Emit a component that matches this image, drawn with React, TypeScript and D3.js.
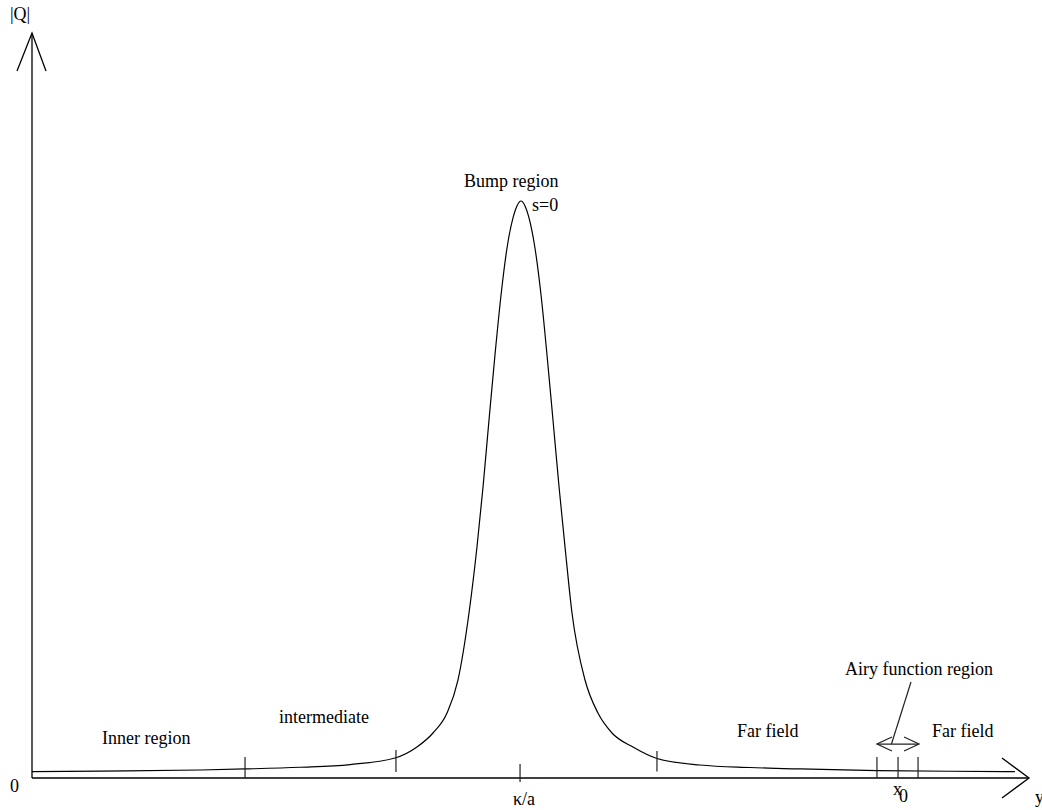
import React from 'react';
import * as d3 from 'd3';

// Position along y (arbitrary units 0..100) and |Q| (arbitrary units)
const curveY = [0, 6.83, 16.88, 21.41, 26.93, 31.96, 36.48, 38.69, 40.3, 41.71, 42.81, 43.92, 44.72, 45.33, 45.93, 46.53, 47.14, 47.74, 48.34, 48.74, 49.15, 49.55, 49.95, 50.55, 51.16, 51.76, 52.36, 52.97, 53.57, 54.27, 55.58, 56.88, 58.29, 60.4, 62.81, 67.14, 72.16, 77.19, 84.92, 92.26, 98.79];
const curveQ = [0.0085, 0.0092, 0.0108, 0.0122, 0.0145, 0.0182, 0.027, 0.0419, 0.0608, 0.0878, 0.1324, 0.223, 0.3122, 0.3932, 0.4838, 0.5716, 0.6527, 0.7162, 0.7568, 0.773, 0.7797, 0.773, 0.7568, 0.7162, 0.6527, 0.5716, 0.4838, 0.3932, 0.3122, 0.223, 0.1324, 0.0878, 0.0608, 0.0419, 0.0264, 0.0176, 0.0142, 0.0122, 0.0101, 0.0091, 0.0085];

// Region boundary marks: position, bottom and top in |Q| units
const markY = [21.41, 36.58, 49.05, 62.81, 84.92, 87.04, 89.05];
const markLo = [0, 0.0081, -0.0054, 0.0089, 0, 0, 0];
const markHi = [0.0284, 0.0378, 0.0189, 0.0365, 0.0284, 0.0284, 0.0284];

// Airy region double arrow and its pointer
const airySpan = [84.92, 89.15];
const airyLevel = 0.0459;
const pointerFrom = [88.34, 0.1297];
const pointerTo = [86.38, 0.0459];

const W = 1042;
const H = 810;

const x = d3.scaleLinear().domain([0, 100]).range([32, 1027]);
const yS = d3.scaleLinear().domain([0, 1]).range([778, 38]);

const font = "'Liberation Serif', 'Times New Roman', serif";

const App = () => {
  const pts: [number, number][] = curveY.map((v, i) => [v, curveQ[i]]);
  const line = d3.line<[number, number]>()
    .x(d => x(d[0]))
    .y(d => yS(d[1]))
    .curve(d3.curveMonotoneX);

  const x0 = x(0);
  const y0 = yS(0);
  const ax = x(100) + 2; // x-axis arrow tip
  const ay = 33; // y-axis arrow tip

  const ay1 = x(airySpan[0]);
  const ay2 = x(airySpan[1]);
  const al = yS(airyLevel);

  const txt = (s: string, tx: number, ty: number, anchor = 'start') => (
    <text x={tx} y={ty} textAnchor={anchor} fontFamily={font} fontSize={18} fill="#000">{s}</text>
  );

  return (
    <svg width={W} height={H} style={{ position: 'absolute', left: 0, top: 0, background: '#fff' }}>
      <rect width={W} height={H} fill="#fff" />
      {/* axes */}
      <g stroke="#000" strokeWidth={1.3} fill="none">
        <line x1={x0} y1={y0} x2={ax} y2={y0} />
        <line x1={x0} y1={y0} x2={x0} y2={ay} />
        <polyline points={`${ax - 27},${y0 - 20} ${ax},${y0} ${ax - 27},${y0 + 20}`} />
        <polyline points={`${x0 - 15},${ay + 38} ${x0},${ay} ${x0 + 14},${ay + 38}`} />
      </g>
      {/* curve */}
      <path d={line(pts) || ''} fill="none" stroke="#000" strokeWidth={1.2} />
      {/* region marks */}
      <g stroke="#222" strokeWidth={1.2}>
        {markY.map((m, i) => (
          <line key={i} x1={x(m)} x2={x(m)} y1={yS(markLo[i])} y2={yS(markHi[i])} />
        ))}
      </g>
      {/* Airy double arrow */}
      <g stroke="#222" strokeWidth={1.2} fill="none">
        <line x1={ay1} y1={al} x2={ay2} y2={al} />
        <polyline points={`${ay1 + 15},${al - 7} ${ay1},${al} ${ay1 + 15},${al + 7}`} />
        <polyline points={`${ay2 - 15},${al - 7} ${ay2},${al} ${ay2 - 15},${al + 7}`} />
        <line x1={x(pointerFrom[0])} y1={yS(pointerFrom[1])} x2={x(pointerTo[0])} y2={yS(pointerTo[1])} />
      </g>
      {/* labels */}
      {txt('|Q|', 10, 20)}
      {txt('0', 10, 792)}
      {txt('y', 1035, 803)}
      {txt('κ/a', 513, 805)}
      <text x={893} y={795} fontFamily={font} fontSize={18}>x</text>
      <text x={899} y={802} fontFamily={font} fontSize={18}>0</text>
      {txt('Bump region', 464, 187)}
      {txt('s=0', 532, 211)}
      {txt('Inner region', 102, 744)}
      {txt('intermediate', 279, 723)}
      {txt('Far field', 737, 737)}
      {txt('Far field', 932, 737)}
      {txt('Airy function region', 993, 675, 'end')}
    </svg>
  );
};

export default App;
